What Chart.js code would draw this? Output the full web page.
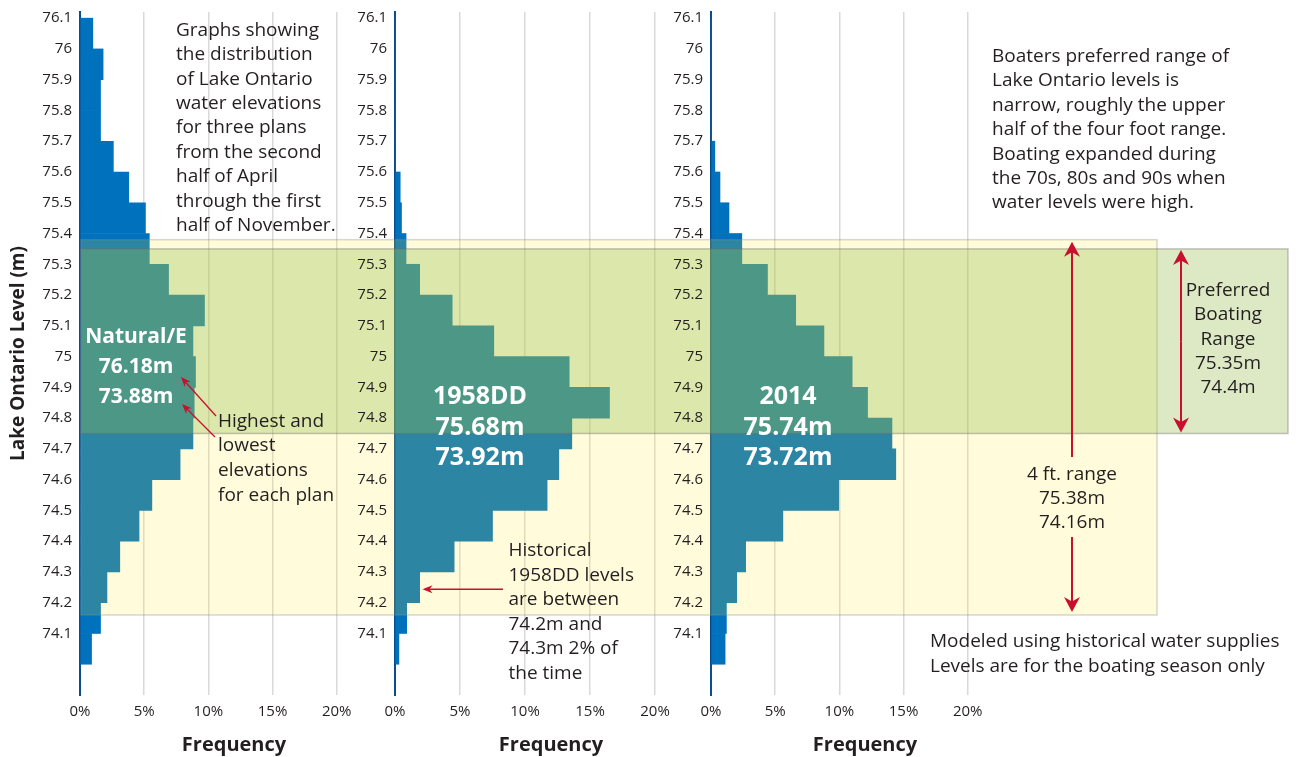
<!DOCTYPE html>
<html>
<head>
<meta charset="utf-8">
<title>Lake Ontario water level distribution</title>
<script src="https://cdn.jsdelivr.net/npm/chart.js@4.4.0/dist/chart.umd.min.js"></script>
<style>
  html, body { margin: 0; padding: 0; background: #fff; overflow: hidden; }
  .panel { position: absolute; left: 0; top: 0; width: 1297px; height: 757px; }
</style>
</head>
<body>
<div class="panel"><canvas id="naturalChart"></canvas></div>
<div class="panel"><canvas id="ddChart"></canvas></div>
<div class="panel"><canvas id="chart2014"></canvas></div>
<script>
// bin centres (m), each bar covers +/- 0.05 m
var levels = [76.05, 75.95, 75.85, 75.75, 75.65, 75.55, 75.45, 75.35, 75.25, 75.15, 75.05,
              74.95, 74.85, 74.75, 74.65, 74.55, 74.45, 74.35, 74.25, 74.15, 74.05];
var levelTicks = [76.1, 76, 75.9, 75.8, 75.7, 75.6, 75.5, 75.4, 75.3, 75.2, 75.1, 75,
                  74.9, 74.8, 74.7, 74.6, 74.5, 74.4, 74.3, 74.2, 74.1];
var levelMin = 73.9, levelMax = 76.12;
var freqTicks = [0, 5, 10, 15, 20];

// frequency (%) per bin
var naturalE = [1.0, 1.8, 1.6, 1.6, 2.6, 3.8, 5.1, 5.4, 6.9, 9.7, 8.8,
                9.0, 8.9, 8.8, 7.8, 5.6, 4.6, 3.1, 2.1, 1.6, 0.9];
var plan1958DD = [0, 0, 0, 0, 0, 0.4, 0.5, 0.85, 1.9, 4.4, 7.6,
                  13.4, 16.5, 13.6, 12.6, 11.7, 7.5, 4.55, 1.9, 0.9, 0.3];
var plan2014 = [0, 0, 0, 0, 0.3, 0.7, 1.4, 2.4, 4.4, 6.6, 8.8,
                11.0, 12.2, 14.1, 14.4, 9.95, 5.6, 2.7, 2.0, 1.2, 1.1];

var planNames = ["Natural/E", "1958DD", "2014"];
var planHigh = ["76.18m", "75.68m", "75.74m"];
var planLow = ["73.88m", "73.92m", "73.72m"];

// bands (m)
var fourFootRange = [75.38, 74.16];
var boatingRange = [75.35, 74.75];

var introText = ["Graphs showing", "the distribution", "of Lake Ontario", "water elevations",
                 "for three plans", "from the second", "half of April", "through the first",
                 "half of November."];
var boatersText = ["Boaters preferred range of", "Lake Ontario levels is", "narrow, roughly the upper",
                   "half of the four foot range.", "Boating expanded during", "the 70s, 80s and 90s when",
                   "water levels were high."];
var highestText = ["Highest and", "lowest", "elevations", "for each plan"];
var historicalText = ["Historical", "1958DD levels", "are between", "74.2m and", "74.3m 2% of", "the time"];
var rangeText = ["4 ft. range", "75.38m", "74.16m"];
var preferredText = ["Preferred", "Boating", "Range", "75.35m", "74.4m"];
var modeledText = ["Modeled using historical water supplies", "Levels are for the boating season only"];

var FONT = "'Open Sans', sans-serif";
var INK = "#231f20";
var RED = "#c8102e";
var TICK_PAD = 8;

Chart.defaults.font.family = FONT;
Chart.defaults.color = INK;

function inBand(v) {
  return v < fourFootRange[0] && v > fourFootRange[1];
}

function makeChart(id, values, padLeft, padRight, showTitle, extra) {
  return new Chart(document.getElementById(id), {
    type: "bar",
    data: {
      datasets: [{
        data: values.map(function (v, i) { return {x: v, y: levels[i]}; }),
        backgroundColor: "#0071bc",
        borderWidth: 0,
        barPercentage: 1,
        categoryPercentage: 1
      }]
    },
    options: {
      indexAxis: "y",
      responsive: true,
      maintainAspectRatio: false,
      animation: false,
      events: [],
      layout: {padding: {left: padLeft, right: padRight, top: 12, bottom: 0}},
      plugins: {legend: {display: false}, tooltip: {enabled: false}},
      scales: {
        y: {
          type: "linear",
          offset: false,
          min: levelMin,
          max: levelMax,
          afterBuildTicks: function (s) {
            s.ticks = levelTicks.map(function (v) { return {value: v}; });
          },
          afterFit: function (s) {
            s.width = 80;
            s.paddingTop = 0;
            s.paddingBottom = 0;
          },
          ticks: {
            autoSkip: false,
            padding: TICK_PAD,
            font: {size: 15},
            // labels inside the bands are drawn later, above the band tint
            color: function (c) { return c.tick && inBand(c.tick.value) ? "rgba(0,0,0,0)" : INK; },
            callback: function (v) { return String(v); }
          },
          grid: {display: false, drawTicks: false},
          border: {color: "#0b4c8c", width: 2},
          title: {
            display: showTitle,
            text: "Lake Ontario Level (m)",
            font: {size: 19, weight: "bold"},
            padding: {top: 7, bottom: 0}
          }
        },
        x: {
          min: 0,
          max: 24,
          afterBuildTicks: function (s) { s.ticks = freqTicks.map(function (v) { return {value: v}; }); },
          afterFit: function (s) {
            s.height = 62;
            s.paddingLeft = 0;
            s.paddingRight = 0;
          },
          ticks: {padding: 8, font: {size: 15}, callback: function (v) { return v + "%"; }},
          grid: {color: "#d9d9d9", lineWidth: 1.5, drawTicks: false},
          border: {display: false},
          title: {display: true, text: "Frequency", font: {size: 20, weight: "bold"}, padding: 0}
        }
      }
    },
    plugins: extra || []
  });
}

function drawLines(ctx, lines, x, y0, step, align) {
  ctx.textAlign = align;
  ctx.textBaseline = "alphabetic";
  lines.forEach(function (t, i) { ctx.fillText(t, x, y0 + i * step); });
}

function arrowHead(ctx, x1, y1, x2, y2, len, half) {
  var a = Math.atan2(y2 - y1, x2 - x1);
  var c = Math.cos(a), s = Math.sin(a);
  ctx.beginPath();
  ctx.moveTo(x2, y2);
  ctx.lineTo(x2 - len * c + half * s, y2 - len * s - half * c);
  ctx.lineTo(x2 - len * 0.7 * c, y2 - len * 0.7 * s);
  ctx.lineTo(x2 - len * c - half * s, y2 - len * s + half * c);
  ctx.closePath();
  ctx.fill();
}

function arrow(ctx, x1, y1, x2, y2, len, half, w) {
  var a = Math.atan2(y2 - y1, x2 - x1);
  ctx.lineWidth = w;
  ctx.beginPath();
  ctx.moveTo(x1, y1);
  ctx.lineTo(x2 - len * 0.6 * Math.cos(a), y2 - len * 0.6 * Math.sin(a));
  ctx.stroke();
  arrowHead(ctx, x1, y1, x2, y2, len, half);
}

var naturalChart = makeChart("naturalChart", naturalE, 0, 909, true);
var ddChart = makeChart("ddChart", plan1958DD, 315, 590, false);

// top canvas: bands, arrows and notes drawn over all three panels
var overlay = {
  id: "overlay",
  afterDraw: function (chart) {
    var ctx = chart.ctx;
    var y = chart.scales.y;
    var left = naturalChart.chartArea.left + 1;
    ctx.save();

    // 4 ft range band
    var yt = y.getPixelForValue(fourFootRange[0]), yb = y.getPixelForValue(fourFootRange[1]);
    ctx.fillStyle = "rgba(255,229,40,0.17)";
    ctx.fillRect(left, yt, 1157 - left, yb - yt);
    ctx.strokeStyle = "rgba(140,140,140,0.35)";
    ctx.lineWidth = 1.5;
    ctx.strokeRect(left, yt, 1157 - left, yb - yt);

    // preferred boating band
    var gt = y.getPixelForValue(boatingRange[0]), gb = y.getPixelForValue(boatingRange[1]);
    ctx.fillStyle = "rgba(148,189,75,0.33)";
    ctx.fillRect(left, gt, 1288 - left, gb - gt);
    ctx.strokeStyle = "rgba(110,110,110,0.4)";
    ctx.strokeRect(left, gt, 1288 - left, gb - gt);

    // level labels inside the bands
    ctx.font = "15px " + FONT;
    ctx.fillStyle = INK;
    ctx.textAlign = "right";
    ctx.textBaseline = "middle";
    [naturalChart, ddChart, chart].forEach(function (c) {
      var s = c.scales.y;
      s.ticks.forEach(function (t) {
        if (inBand(t.value)) {
          ctx.fillText(t.label, s.right - TICK_PAD, s.getPixelForValue(t.value));
        }
      });
    });

    // plan labels
    ctx.fillStyle = "#ffffff";
    ctx.font = "bold 21px " + FONT;
    drawLines(ctx, [planNames[0], planHigh[0], planLow[0]], 136, 343, 30, "center");
    ctx.font = "bold 25px " + FONT;
    drawLines(ctx, [planNames[1], planHigh[1], planLow[1]], 480, 404, 30.5, "center");
    drawLines(ctx, [planNames[2], planHigh[2], planLow[2]], 788, 404, 30.5, "center");

    // notes
    ctx.fillStyle = INK;
    ctx.font = "19px " + FONT;
    drawLines(ctx, introText, 176, 35.7, 24.4, "left");
    drawLines(ctx, boatersText, 992, 61.7, 24.45, "left");
    drawLines(ctx, highestText, 218, 426.7, 24.6, "left");
    drawLines(ctx, historicalText, 508.5, 556, 24.5, "left");
    drawLines(ctx, rangeText, 1072, 480, 24, "center");
    drawLines(ctx, preferredText, 1228, 296, 24.3, "center");
    drawLines(ctx, modeledText, 930, 646.7, 24.8, "left");

    // arrows
    ctx.strokeStyle = RED;
    ctx.fillStyle = RED;
    arrow(ctx, 216, 416, 181, 377, 10, 4, 1.3);
    arrow(ctx, 215, 437, 182, 404, 10, 4, 1.3);
    arrow(ctx, 503, 589.3, 422.5, 589.3, 10, 4, 1.5);
    arrow(ctx, 1072, 457, 1072, yt + 2, 15, 8, 2);
    arrow(ctx, 1072, 537, 1072, yb - 3, 15, 8, 2);
    arrow(ctx, 1181, (gt + gb) / 2, 1181, gt + 1, 15, 8, 2);
    arrow(ctx, 1181, (gt + gb) / 2, 1181, gb - 1, 15, 8, 2);

    ctx.restore();
  }
};

var chart2014 = makeChart("chart2014", plan2014, 631, 278, false, [overlay]);
</script>
</body>
</html>
